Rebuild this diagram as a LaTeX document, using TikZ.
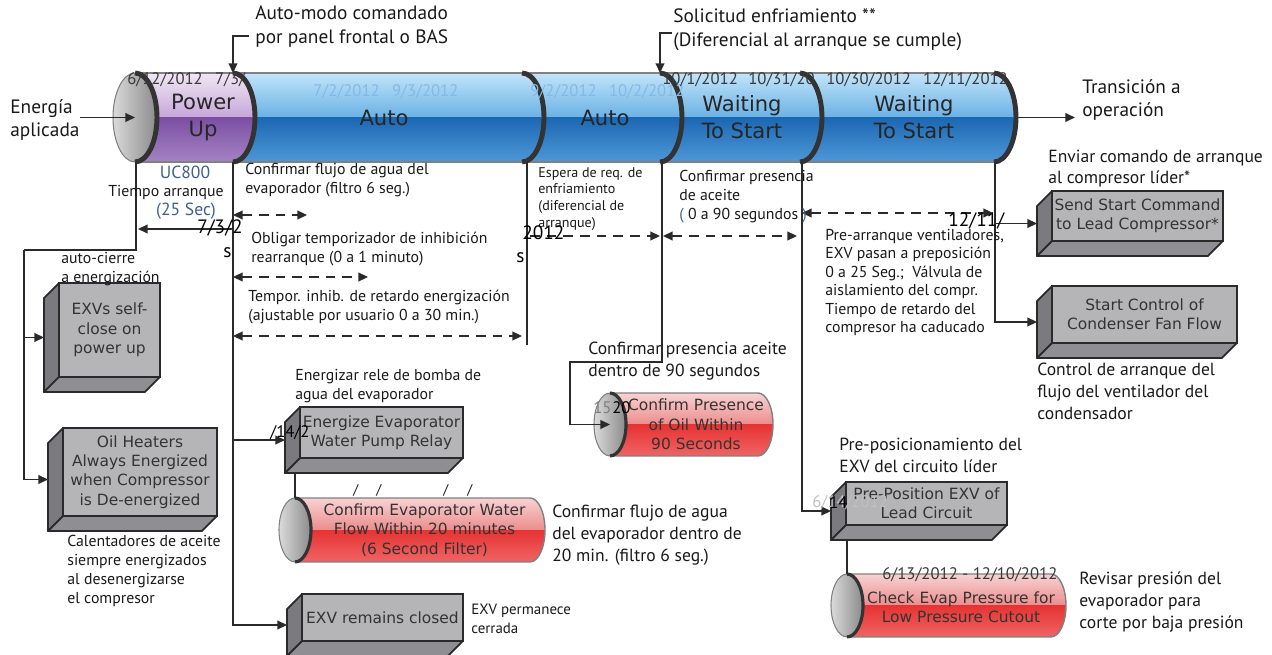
\documentclass[tikz,border=0pt]{standalone}
\usepackage{fontspec}
\setmainfont{PT Sans}
\newfontfamily\boxfont{DejaVu Sans}
\usetikzlibrary{arrows.meta,positioning,calc}

\definecolor{facefront}{HTML}{B5B5B8}
\definecolor{faceside}{HTML}{7B7B7F}
\definecolor{facebot}{HTML}{8F8F93}
\definecolor{edge}{HTML}{2A2A2A}
\definecolor{sep}{HTML}{333333}
\definecolor{uc}{HTML}{3F5E8E}
\definecolor{datedk}{HTML}{3A3A3A}
\definecolor{datelt}{HTML}{86B8E4}
\definecolor{pupA}{HTML}{F0E7F4}
\definecolor{pupB}{HTML}{C5A6D8}
\definecolor{pupC}{HTML}{7B4FA3}
\definecolor{pupD}{HTML}{A583C3}
\definecolor{bluA}{HTML}{C2E4F9}
\definecolor{bluB}{HTML}{6AB1E5}
\definecolor{bluC}{HTML}{1C67B2}
\definecolor{bluD}{HTML}{4E98D8}
\definecolor{redA}{HTML}{F8D2D2}
\definecolor{redB}{HTML}{EC8C8C}
\definecolor{redC}{HTML}{E63333}
\definecolor{redD}{HTML}{F06464}
\definecolor{capL}{HTML}{DADADA}
\definecolor{capR}{HTML}{8A8A8A}

\newcommand{\blockbox}[5]{% name, centre, width, height, text
  \node[frontbox,minimum width=#3,minimum height=#4] (#1) at (#2) {#5};
  \filldraw[fill=faceside,draw=edge,line width=1pt,line join=round]
    (#1.north west) -- ($(#1.north west)+(-15,15)$) -- ($(#1.south west)+(-15,15)$) -- (#1.south west) -- cycle;
  \filldraw[fill=facebot,draw=edge,line width=1pt,line join=round]
    (#1.south west) -- (#1.south east) -- ($(#1.south east)+(-15,15)$) -- ($(#1.south west)+(-15,15)$) -- cycle;
  \coordinate (#1-side) at ($(#1.west)+(-15,7.5)$);
  \coordinate (#1-bot) at ($(#1.south)+(-15,15)$);
}

\newcommand{\redcyl}[6]{% name, left x, right x, top y, bottom y, text
  \pgfmathsetmacro{\cylry}{(#5-#4)*0.01}
  \pgfmathsetmacro{\cylmid}{(#4+#5)/2}
  \begin{scope}
    \clip (#2,#4) -- (#3,#4) arc[start angle=90,end angle=-90,x radius=0.3cm,y radius=\cylry cm] -- (#2,#5) -- cycle;
    \shade[top color=redA,bottom color=redB] (#2-20,#4) rectangle (#3+20,\cylmid);
    \shade[top color=redC,bottom color=redD] (#2-20,\cylmid) rectangle (#3+20,#5);
  \end{scope}
  \draw[gray,line width=0.8pt] (#2,#4) -- (#3,#4) arc[start angle=90,end angle=-90,x radius=0.3cm,y radius=\cylry cm] -- (#2,#5);
  \shadedraw[left color=capL,right color=capR,draw=gray,line width=0.6pt] (#2,\cylmid) ellipse[x radius=0.32cm,y radius=\cylry cm];
  \draw[sep,line width=1.8pt] (#2,#4) arc[start angle=90,end angle=-90,x radius=0.32cm,y radius=\cylry cm];
  \coordinate (#1-cap) at (#2,\cylmid);
  \coordinate (#1-top) at (#2,#4);
  \node[cyltxt] (#1) at ({(#2+#3)/2+12},\cylmid) {#6};
}

\begin{document}
\begin{tikzpicture}[
  x=0.02cm, y=-0.02cm,
  lbl/.style={anchor=west,align=left,inner sep=0pt,text=black!90,font=\fontsize{9}{10.8}\selectfont},
  midlbl/.style={lbl,font=\fontsize{10}{12.4}\selectfont},
  biglbl/.style={lbl,font=\fontsize{11}{13.6}\selectfont},
  tinylbl/.style={lbl,font=\fontsize{8}{9.6}\selectfont},
  datelbl/.style={lbl,font=\fontsize{9.5}{11}\selectfont,text=datedk},
  artlbl/.style={lbl,font=\fontsize{11}{12}\selectfont,text=black},
  segtxt/.style={align=center,inner sep=0pt,text=black!85,font=\boxfont\fontsize{12}{15.3}\selectfont},
  frontbox/.style={draw=edge,line width=1pt,fill=facefront,outer sep=0pt,inner sep=1pt,align=center,text=black!80,font=\boxfont\fontsize{8.8}{11}\selectfont},
  cyltxt/.style={align=center,inner sep=0pt,text=black!80,font=\boxfont\fontsize{8.8}{11}\selectfont},
  conn/.style={draw=edge,line width=0.8pt},
  arr/.style={conn,-{Triangle[length=5.5pt,width=5pt]}},
  darr/.style={conn,line width=1pt,dash pattern=on 5.5pt off 4pt,{Triangle[length=5.5pt,width=5pt]}-{Triangle[length=5.5pt,width=5pt]}},
  rarr/.style={conn,line width=1pt,dash pattern=on 5.5pt off 4pt,-{Triangle[length=5.5pt,width=5pt]}},
]
  \useasboundingbox (0,0) rectangle (1272,655);

  % main cylinder
  \shadedraw[left color=capL,right color=capR,draw=gray,line width=0.6pt] (135,117.5) ellipse[x radius=0.44cm,y radius=0.89cm];
  \begin{scope}
    \clip (135,73) -- (233,73) arc[start angle=90,end angle=-90,x radius=0.44cm,y radius=0.89cm]
      -- (135,162) arc[start angle=-90,end angle=90,x radius=0.44cm,y radius=0.89cm] -- cycle;
    \shade[top color=pupA,bottom color=pupB] (100,73) rectangle (300,117.5);
    \shade[top color=pupC,bottom color=pupD] (100,117.5) rectangle (300,162);
  \end{scope}
  \begin{scope}
    \clip (233,73) -- (994,73) arc[start angle=90,end angle=-90,x radius=0.44cm,y radius=0.89cm]
      -- (233,162) arc[start angle=-90,end angle=90,x radius=0.44cm,y radius=0.89cm] -- cycle;
    \shade[top color=bluA,bottom color=bluB] (200,73) rectangle (1030,117.5);
    \shade[top color=bluC,bottom color=bluD] (200,117.5) rectangle (1030,162);
  \end{scope}
  \draw[gray,line width=0.6pt] (135,73) -- (994,73) (135,162) -- (994,162);
  \foreach \xs in {135,233,522,660,800,994}
    \draw[sep,line width=2.8pt] (\xs,73) arc[start angle=90,end angle=-90,x radius=0.44cm,y radius=0.89cm];

  \node[segtxt] (pwr) at (203,117.5) {Power\\Up};
  \node[segtxt] (autoA) at (384,117.5) {Auto};
  \node[segtxt] (autoB) at (605,117.5) {Auto};
  \node[segtxt] (waitA) at (742,117.5) {Waiting\\To Start};
  \node[segtxt] (waitB) at (914,117.5) {Waiting\\To Start};

  \node[datelbl] (d612) at (127,80) {6/12/2012\hspace{7pt}7/3/};
  \node[datelbl,text=datelt] (d72) at (313,92) {7/2/2012\hspace{7pt}9/3/2012};
  \node[datelbl,text=datelt] (d92) at (530,92) {9/2/2012\hspace{7pt}10/2/2012};
  \node[datelbl] (d101) at (662,80) {10/1/2012\hspace{6pt}10/31/20};
  \node[datelbl] (d1030) at (826,80) {10/30/2012\hspace{7pt}12/11/2012};

  \coordinate (cap) at (135,117.5);
  \coordinate (b1) at (136,162);
  \coordinate (b2) at (233,162);
  \coordinate (b3) at (527,162);
  \coordinate (b4) at (662,162);
  \coordinate (b5) at (802,162);
  \coordinate (b6) at (995,162);
  \coordinate (b2top) at (233,73);
  \coordinate (b4top) at (660,73);
  \coordinate (endr) at (1017,117.5);

  % top labels
  \node[biglbl] (energia) at (10,120) {Energía\\aplicada};
  \node[biglbl] (automodo) at (255,26.5) {Auto-modo comandado\\por panel frontal o BAS};
  \node[biglbl] (solicitud) at (673,29.5) {Solicitud enfriamiento **\\(Diferencial al arranque se cumple)};
  \node[biglbl] (transicion) at (1082,100) {Transición a\\operación};
  \coordinate (amfrom) at (249,36);
  \coordinate (solfrom) at (672,33);

  \draw[arr] (energia.east |- cap) -- (cap);
  \draw[arr] (amfrom) -| (b2top);
  \draw[arr] (solfrom) -| (b4top);
  \draw[arr,shorten >=4pt] (endr) -- (endr -| transicion.west);

  % boxes
  \blockbox{exvs}{109.5,330}{2.02cm}{1.88cm}{EXVs self-\\close on\\power up}
  \blockbox{oil}{140,472}{3.08cm}{1.76cm}{Oil Heaters\\Always Energized\\when Compressor\\is De-energized}
  \blockbox{ener}{381.5,432.5}{3.26cm}{1.02cm}{Energize Evaporator\\Water Pump Relay}
  \blockbox{exvr}{382.5,617.5}{3.22cm}{0.94cm}{EXV remains closed}
  \blockbox{send}{1137.5,216}{3.42cm}{1.0cm}{Send Start Command\\to Lead Compressor*}
  \blockbox{ctrl}{1144.5,314.5}{3.7cm}{1.14cm}{Start Control of\\Condenser Fan Flow}
  \blockbox{prepos}{926.5,503.5}{3.22cm}{0.86cm}{Pre-Position EXV of\\Lead Circuit}

  % red cylinders
  \redcyl{oil90}{610}{758}{393}{456}{Confirm Presence\\of Oil Within\\90 Seconds}
  \redcyl{ewf}{295}{530}{498}{562}{Confirm Evaporator Water\\Flow Within 20 minutes\\(6 Second Filter)}
  \redcyl{chk}{847}{1051}{574}{637}{\\[-2pt]Check Evap Pressure for\\Low Pressure Cutout}

  % connectors
  \coordinate (j1) at (24,250);
  \coordinate (j4) at (570,362);
  \coordinate (b3e) at (527,345);
  \draw[conn] (b1) |- (j1);
  \draw[arr] (j1) |- (exvs-side);
  \draw[arr] (j1) |- (oil-side);
  \draw[arr] (b2) |- (exvr-side);
  \draw[arr] (b2) |- (ener-side);
  \draw[conn] (b3) -- (b3e);
  \draw[arr] (b4) |- (j4) |- (oil90-cap);
  \draw[arr] (b5) |- (prepos-side);
  \draw[arr] (b6) |- (send-side);
  \draw[arr] (b6) |- (ctrl-side);
  \draw[conn] (ewf-top) -- (ewf-top |- ener-bot);
  \draw[conn] (chk-top) -- (chk-top |- prepos-bot);

  \coordinate (t1) at (233,229);
  \coordinate (t2) at (138,229);
  \draw[arr] (t1) -- (t2);
  \coordinate (d1a) at (233,215); \coordinate (d1b) at (307,215);
  \coordinate (d2a) at (233,277); \coordinate (d2b) at (368,277);
  \coordinate (d3a) at (233,336); \coordinate (d3b) at (522,336);
  \coordinate (d4a) at (530,236); \coordinate (d4b) at (660,236);
  \coordinate (d5a) at (663,236); \coordinate (d5b) at (797,236);
  \coordinate (d6a) at (802,213); \coordinate (d6b) at (993,213);
  \draw[darr] (d1a) -- (d1b);
  \draw[darr] (d2a) -- (d2b);
  \draw[darr] (d3a) -- (d3b);
  \draw[rarr] (d4a) -- (d4b);
  \draw[darr] (d5a) -- (d5b);
  \draw[darr] (d6a) -- (d6b);

  % labels
  \node[lbl,anchor=center,text=uc,font=\fontsize{10}{12}\selectfont] (uc800) at (185,172) {UC800};
  \node[lbl,anchor=center] (tarr) at (166,192) {Tiempo arranque};
  \node[lbl,anchor=center,text=uc,font=\fontsize{10}{12}\selectfont] (tsec) at (186,211) {(25 Sec)};
  \node[lbl] (flujo) at (245,180.5) {Confirmar flujo de agua del\\evaporador (filtro 6 seg.)};
  \node[lbl] (inhib) at (251,249.5) {Obligar temporizador de inhibición\\rearranque (0 a 1 minuto)};
  \node[lbl] (tempor) at (248,307) {Tempor. inhib. de retardo energización\\(ajustable por usuario 0 a 30 min.)};
  \node[lbl] (autocierre) at (61,269.5) {auto-cierre\\a energización};
  \node[tinylbl] (espera) at (538,199) {Espera de req. de\\enfriamiento\\(diferencial de\\arranque)};
  \node[lbl] (presencia) at (679,197) {Confirmar presencia\\de aceite\\\textcolor{uc}{(} 0 a 90 segundos \textcolor{uc}{)}};
  \node[lbl,font=\fontsize{9}{10.5}\selectfont] (prearr) at (825,282.5) {Pre-arranque ventiladores,\\EXV pasan a preposición\\0 a 25 Seg.;\ \ Válvula de\\aislamiento del compr.\\Tiempo de retardo del\\compresor ha caducado};
  \node[midlbl] (enviar) at (1048,168.5) {Enviar comando de arranque\\al compresor líder*};
  \node[midlbl] (control) at (1037,391.5) {Control de arranque del\\flujo del ventilador del\\condensador};
  \node[midlbl] (pres90) at (588,361) {Confirmar presencia aceite\\dentro de 90 segundos};
  \node[lbl] (energizar) at (295,386.5) {Energizar rele de bomba de\\agua del evaporador};
  \node[lbl] (calent) at (67,571) {Calentadores de aceite\\siempre energizados\\al desenergizarse\\el compresor};
  \node[midlbl] (flujo20) at (552,535) {Confirmar flujo de agua\\del evaporador dentro de\\20 min. (filtro 6 seg.)};
  \node[lbl,font=\fontsize{8.5}{11}\selectfont] (exvperm) at (471,619) {EXV permanece\\cerrada};
  \node[midlbl] (preposlbl) at (839,455) {Pre-posicionamiento del\\EXV del circuito líder};
  \node[midlbl] (revisar) at (1079,602) {Revisar presión del\\evaporador para\\corte por baja presión};

  % leftover date marks
  \node[artlbl] (a73) at (197,228) {7/3/2};
  \node[artlbl] (as1) at (223,253) {s};
  \node[artlbl] (a2012) at (522,233) {2012};
  \node[artlbl] (as2) at (516,258) {s};
  \node[artlbl] (a1211) at (948,221) {12/11/};
  \node[artlbl,font=\fontsize{9.5}{11}\selectfont] (a142) at (270,433) {/14/2};
  \node[artlbl,font=\fontsize{9.5}{11}\selectfont,text=gray] (a15) at (593,408) {15};
  \node[artlbl,font=\fontsize{9.5}{11}\selectfont] (a20) at (612,408) {20};
  \node[artlbl,font=\fontsize{9.5}{11}\selectfont,text=black!25] (a614) at (812,503) {6/14/2012};
  \node[artlbl,font=\fontsize{9.5}{11}\selectfont] (a14) at (829,503) {14};
  \node[datelbl] (d613) at (882,575) {6/13/2012 - 12/10/2012};
  \foreach \xs [count=\i] in {353,376,443,467}
    \node[lbl,font=\fontsize{8}{9}\selectfont] (sl\i) at (\xs,490) {/};
\end{tikzpicture}
\end{document}
